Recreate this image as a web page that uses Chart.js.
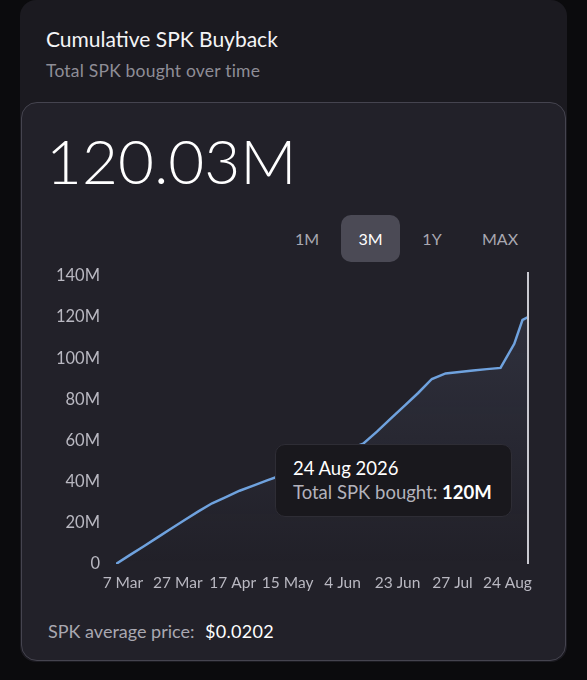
<!DOCTYPE html>
<html lang="en">
<head>
  <meta charset="UTF-8">
  <title>Cumulative SPK Buyback</title>
  <script src="https://cdn.jsdelivr.net/npm/chart.js"></script>
  <style>
    body {
      margin: 0;
      width: 587px;
      height: 680px;
      background: #0b0b0d;
      font-family: Lato, "Noto Sans", sans-serif;
      position: relative;
      overflow: hidden;
    }
    .outer {
      position: absolute;
      left: 20px; top: 0;
      width: 547px; height: 662px;
      background: #1b1a20;
      border-radius: 16px;
    }
    .title {
      position: absolute;
      left: 46px; top: 26px;
      color: #f4f4f6;
      font-size: 21px;
      font-weight: 400;
    }
    .subtitle {
      position: absolute;
      left: 46px; top: 60px;
      color: #8e8d96;
      font-size: 17.5px;
      letter-spacing: 0.2px;
    }
    .card {
      position: absolute;
      left: 21px; top: 102px;
      width: 543px; height: 557px;
      background: #222129;
      border: 1.5px solid #45444f;
      border-radius: 16px;
    }
    .big {
      position: absolute;
      left: 46px; top: 124px;
      color: #ffffff;
      font-size: 62px;
      font-weight: 300;
      line-height: 72px;
    }
    .ranges span {
      position: absolute;
      top: 215px;
      height: 47px;
      line-height: 47px;
      text-align: center;
      font-size: 16px;
      color: #a9a8b1;
    }
    .ranges span.on {
      background: #4b4a55;
      border-radius: 10px;
      color: #ffffff;
    }
    .chart-box {
      position: absolute;
      left: 40px; top: 250px;
      width: 515px; height: 350px;
    }
    .footer {
      position: absolute;
      left: 48px; top: 620px;
      font-size: 18px;
      color: #a9a8b1;
    }
    .footer b { color: #ffffff; font-weight: 400; margin-left: 6px; letter-spacing: 0.3px; }
    #tip {
      position: absolute;
      background: #19181d;
      border: 1px solid #2e2d35;
      border-radius: 10px;
      padding: 11px 17px 12px 17px;
      width: 201px;
      font-size: 18.5px;
      line-height: 24px;
      pointer-events: none;
      white-space: nowrap;
    }
    #tip .t { color: #ffffff; }
    #tip .b { color: #b3b2bb; }
    #tip .b strong { color: #ffffff; font-weight: 700; }
  </style>
</head>
<body>
  <div class="outer"></div>
  <div class="title">Cumulative SPK Buyback</div>
  <div class="subtitle">Total SPK bought over time</div>
  <div class="card"></div>
  <div class="big">120.03M</div>
  <div class="ranges">
    <span style="left:287px; width:40px;">1M</span>
    <span class="on" style="left:341px; width:59px;">3M</span>
    <span style="left:412px; width:40px;">1Y</span>
    <span style="left:475px; width:50px;">MAX</span>
  </div>
  <div class="chart-box"><canvas id="buybackChart"></canvas></div>
  <div id="tip"></div>
  <div class="footer">SPK average price: <b>$0.0202</b></div>

  <script>
    // cumulative SPK bought (millions), one value per sample
    const boughtM = [0, 4.3, 8.5, 12.8, 17.1, 21.4, 25.6, 29.5, 32.5, 35.6,
                     38.1, 40.6, 43.0, 45.5, 48.1, 50.7, 53.3, 55.9, 58.5, 64.3,
                     70.6, 76.8, 83.1, 89.9, 92.6, 93.3, 94.0, 94.7, 95.3, 107.0,
                     118.6, 120.03];
    // x axis labels and the sample position they sit under
    const tickLabels = ['7 Mar', '27 Mar', '17 Apr', '15 May', '4 Jun', '23 Jun', '27 Jul', '24 Aug'];
    const tickAt = [0.5, 4.5, 8.5, 12.5, 16.5, 20.5, 24.5, 28.5];
    const yTicks = [0, 20, 40, 60, 80, 100, 120, 140];
    const lastDate = '24 Aug 2026';
    const seriesName = 'Total SPK bought';

    const lastIdx = boughtM.length - 1;
    // the last two samples are closer together (the final climb rounds off)
    const points = boughtM.map((v, i) => ({ x: i < lastIdx - 1 ? i : (i === lastIdx - 1 ? 29.6 : 30), y: v }));

    // hover line drawn at the active point
    const hoverLine = {
      id: 'hoverLine',
      afterDatasetsDraw(chart) {
        const act = chart.getActiveElements();
        if (!act.length) return;
        const x = act[0].element.x;
        const { ctx, chartArea } = chart;
        ctx.save();
        ctx.strokeStyle = '#c9c9d0';
        ctx.lineWidth = 2;
        ctx.beginPath();
        ctx.moveTo(x, chartArea.top - 4);
        ctx.lineTo(x, chartArea.bottom);
        ctx.stroke();
        ctx.restore();
      }
    };

    function externalTip(context) {
      const tip = document.getElementById('tip');
      const model = context.tooltip;
      if (model.opacity === 0 || !model.dataPoints || !model.dataPoints.length) {
        tip.style.display = 'none';
        return;
      }
      const dp = model.dataPoints[0];
      const val = Math.round(dp.parsed.y) + 'M';
      const title = dp.dataIndex === lastIdx ? lastDate : '';
      tip.innerHTML = '<div class="t">' + title + '</div>' +
        '<div class="b">' + seriesName + ': <strong>' + val + '</strong></div>';
      tip.style.display = 'block';
      const box = context.chart.canvas.parentNode;
      const left = box.offsetLeft + model.caretX - 16 - tip.offsetWidth;
      const top = box.offsetTop + context.chart.chartArea.bottom - 120;
      tip.style.left = left + 'px';
      tip.style.top = top + 'px';
    }

    const ctx = document.getElementById('buybackChart').getContext('2d');
    const fillGrad = ctx.createLinearGradient(0, 40, 0, 314);
    fillGrad.addColorStop(0, 'rgba(120, 135, 175, 0.16)');
    fillGrad.addColorStop(1, 'rgba(120, 135, 175, 0.0)');

    const chart = new Chart(ctx, {
      type: 'line',
      data: {
        datasets: [{
          label: seriesName,
          data: points,
          borderColor: '#6fa2de',
          borderWidth: 2.5,
          backgroundColor: fillGrad,
          fill: 'origin',
          tension: 0,
          pointRadius: 0,
          pointHoverRadius: 0
        }]
      },
      options: {
        animation: false,
        responsive: true,
        maintainAspectRatio: false,
        interaction: { mode: 'index', intersect: false },
        layout: { padding: { top: 0, right: 27, bottom: 0, left: 0 } },
        plugins: {
          legend: { display: false },
          tooltip: { enabled: false, external: externalTip }
        },
        scales: {
          x: {
            type: 'linear',
            min: 0,
            max: 30,
            grid: { display: false, drawTicks: false },
            border: { display: false },
            afterBuildTicks: (scale) => { scale.ticks = tickAt.map(v => ({ value: v })); },
            afterFit: (scale) => { scale.height = 36; },
            ticks: {
              autoSkip: false,
              maxRotation: 0,
              padding: 10,
              color: '#b9b8c1',
              font: { family: 'Lato', size: 15.5 },
              callback: (v) => tickLabels[tickAt.indexOf(v)]
            }
          },
          y: {
            min: 0,
            max: 140,
            grid: { display: false, drawTicks: false },
            border: { display: false },
            afterBuildTicks: (scale) => { scale.ticks = yTicks.map(v => ({ value: v })); },
            afterFit: (scale) => { scale.width = 76; },
            ticks: {
              padding: 16,
              color: '#b9b8c1',
              font: { family: 'Lato', size: 16.5 },
              callback: (v) => v === 0 ? '0' : v + 'M'
            }
          }
        }
      },
      plugins: [hoverLine]
    });

    // show the hover state on the latest point
    const el = chart.getDatasetMeta(0).data[lastIdx];
    chart.setActiveElements([{ datasetIndex: 0, index: lastIdx }]);
    chart.tooltip.setActiveElements([{ datasetIndex: 0, index: lastIdx }], { x: el.x, y: el.y });
    chart.update();
  </script>
</body>
</html>
